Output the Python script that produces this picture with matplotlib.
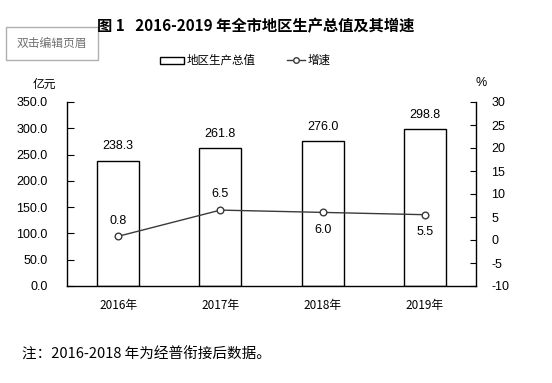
import matplotlib
matplotlib.use("Agg")
import matplotlib.pyplot as plt
from matplotlib.patches import Rectangle
from matplotlib.lines import Line2D

plt.rcParams['font.family'] = ['Noto Sans CJK SC', 'DejaVu Sans']

years = ['2016年', '2017年', '2018年', '2019年']
gdp = [238.3, 261.8, 276.0, 298.8]
growth = [0.8, 6.5, 6.0, 5.5]
growth_label_above = [True, True, False, False]
left_ticks = [0, 50, 100, 150, 200, 250, 300, 350]
right_ticks = [-10, -5, 0, 5, 10, 15, 20, 25, 30]

fig = plt.figure(figsize=(5.52, 3.83), dpi=100)
W, H = 552, 383
def fx(x): return x / W
def fy(y): return 1 - y / H

ax = fig.add_axes([fx(67), fy(286), fx(476) - fx(67), fy(102) - fy(286)])
ax2 = ax.twinx()

num_font = dict(family='Liberation Sans', fontsize=9)

x = list(range(len(years)))
ax.bar(x, gdp, width=0.41, color='white', edgecolor='black', linewidth=1.0, zorder=2)
ax.set_xlim(-0.5, len(years) - 0.5)
ax.set_ylim(0, 350)
ax.set_yticks(left_ticks)
ax.set_yticklabels([f"{v:.1f}" for v in left_ticks], **num_font)
ax.set_xticks(x)
ax.set_xticklabels(years, fontsize=8.5)
ax.tick_params(axis='x', length=0, pad=9)
ax.tick_params(axis='y', direction='in', length=5, pad=14)
for s in ['top', 'right']:
    ax.spines[s].set_visible(False)
ax.spines['left'].set_linewidth(1.0)
ax.spines['bottom'].set_linewidth(1.0)

for xi, v in zip(x, gdp):
    ax.annotate(f"{v:.1f}", (xi, v), xytext=(0, 6), textcoords='offset points',
                ha='center', va='bottom', **num_font)

ax2.plot(x, growth, color='#3a3a3a', linewidth=1.0, marker='o', markersize=4.8,
         markerfacecolor='white', markeredgecolor='#3a3a3a', zorder=3)
ax2.set_ylim(-10, 30)
ax2.set_yticks(right_ticks)
ax2.set_yticklabels([str(v) for v in right_ticks], **num_font)
ax2.tick_params(axis='y', direction='in', length=4, pad=11)
for s in ['top', 'left', 'bottom']:
    ax2.spines[s].set_visible(False)
ax2.spines['right'].set_linewidth(1.0)

for xi, v, above in zip(x, growth, growth_label_above):
    if above:
        ax2.annotate(f"{v:.1f}", (xi, v), xytext=(0, 7), textcoords='offset points',
                     ha='center', va='bottom', **num_font)
    else:
        ax2.annotate(f"{v:.1f}", (xi, v), xytext=(0, -8), textcoords='offset points',
                     ha='center', va='top', **num_font)

# Axis unit labels
fig.text(fx(44), fy(84), '亿元', ha='center', va='center', fontsize=8.5)
fig.text(fx(481), fy(83), '%', ha='center', va='center', **num_font)

# Title
fig.text(fx(256), fy(26), '图 1   2016-2019 年全市地区生产总值及其增速', ha='center', va='center',
         fontsize=11, fontweight='bold')

# Legend
fig.patches.append(Rectangle((fx(160), fy(64)), fx(184) - fx(160), fy(57) - fy(64),
                             transform=fig.transFigure, facecolor='white', edgecolor='black', linewidth=1.0))
fig.text(fx(187), fy(60), '地区生产总值', ha='left', va='center', fontsize=8.3)
fig.lines.append(Line2D([fx(287), fx(305)], [fy(60), fy(60)], transform=fig.transFigure,
                        color='#3a3a3a', linewidth=1.0))
fig.lines.append(Line2D([fx(296)], [fy(60)], transform=fig.transFigure, marker='o', markersize=4,
                        markerfacecolor='white', markeredgecolor='#3a3a3a', linestyle='none'))
fig.text(fx(308), fy(60), '增速', ha='left', va='center', fontsize=8.3)

# Header box
fig.patches.append(Rectangle((fx(6), fy(60)), fx(98) - fx(6), fy(27) - fy(60),
                             transform=fig.transFigure, facecolor='white', edgecolor='#b0b0b0', linewidth=1.0))
fig.text(fx(52), fy(43), '双击编辑页眉', ha='center', va='center', fontsize=8.5, color='#707070')

# Footnote
fig.text(fx(22), fy(355), '注：2016-2018 年为经普衔接后数据。', ha='left', va='center', fontsize=10.5)

fig.savefig('out.png', dpi=100)
